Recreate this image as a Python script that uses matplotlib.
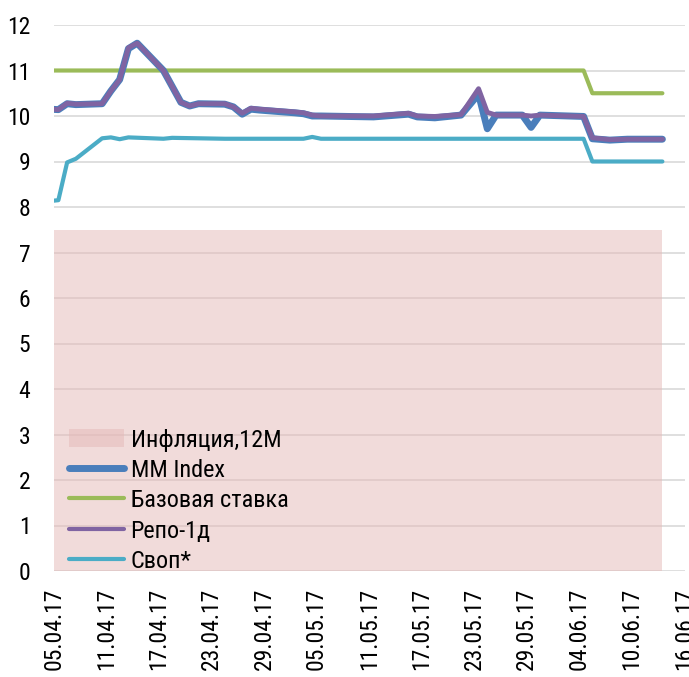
import matplotlib
matplotlib.use("Agg")
import matplotlib.pyplot as plt
from matplotlib.patches import Patch
from matplotlib.lines import Line2D
import pandas as pd

# ---------------- data ----------------
rate_dates = ["2017-04-04", "2017-04-05", "2017-04-06", "2017-04-07", "2017-04-10",
              "2017-04-11", "2017-04-12", "2017-04-13", "2017-04-14", "2017-04-17",
              "2017-04-19", "2017-04-20", "2017-04-21", "2017-04-24", "2017-04-25",
              "2017-04-26", "2017-04-27", "2017-04-28", "2017-05-02", "2017-05-03",
              "2017-05-04", "2017-05-05", "2017-05-11", "2017-05-15", "2017-05-16",
              "2017-05-18", "2017-05-21", "2017-05-23", "2017-05-24", "2017-05-25",
              "2017-05-28", "2017-05-29", "2017-05-30", "2017-06-04", "2017-06-05",
              "2017-06-07", "2017-06-09", "2017-06-13"]
mm_index = [10.15, 10.14, 10.27, 10.25, 10.27, 10.55, 10.80, 11.48, 11.60, 11.00,
            10.30, 10.22, 10.27, 10.26, 10.20, 10.04, 10.15, 10.13, 10.07, 10.05,
            10.00, 10.00, 9.98, 10.04, 9.98, 9.96, 10.02, 10.48, 9.72, 10.02,
            10.02, 9.75, 10.02, 9.99, 9.50, 9.47, 9.49, 9.49]
repo_1d = [10.15, 10.14, 10.28, 10.26, 10.27, 10.55, 10.80, 11.50, 11.60, 11.00,
           10.30, 10.22, 10.27, 10.27, 10.20, 10.06, 10.17, 10.15, 10.09, 10.07,
           10.02, 10.00, 10.00, 10.06, 10.00, 9.99, 10.03, 10.60, 10.08, 10.02,
           10.02, 10.00, 10.02, 9.99, 9.52, 9.48, 9.49, 9.49]

base_dates = ["2017-04-04", "2017-06-04", "2017-06-05", "2017-06-13"]
base_rate = [11.0, 11.0, 10.5, 10.5]

swap_dates = ["2017-04-04", "2017-04-05", "2017-04-06", "2017-04-07", "2017-04-10",
              "2017-04-11", "2017-04-12", "2017-04-13", "2017-04-17", "2017-04-18",
              "2017-04-24", "2017-05-03", "2017-05-04", "2017-05-05", "2017-06-04",
              "2017-06-05", "2017-06-13"]
swap = [8.13, 8.15, 8.98, 9.06, 9.51, 9.53, 9.49, 9.53, 9.50, 9.52,
        9.50, 9.50, 9.54, 9.50, 9.50, 9.00, 9.00]

infl_dates = ["2017-04-04", "2017-06-13"]
inflation = [7.5, 7.5]

x_tick_labels = ["05.04.17", "11.04.17", "17.04.17", "23.04.17", "29.04.17",
                 "05.05.17", "11.05.17", "17.05.17", "23.05.17", "29.05.17",
                 "04.06.17", "10.06.17", "16.06.17"]
y_ticks = list(range(0, 13))

series_labels = ["Инфляция,12M", "MM Index", "Базовая ставка", "Репо-1д", "Своп*"]

# ---------------- style ----------------
plt.rcParams["font.family"] = ["Roboto Condensed", "DejaVu Sans"]
FS_TICK = 17
FS_LEG = 17.5

c_infl = (0.898, 0.726, 0.718)
c_mm = "#4a7ebb"
c_base = "#9bbb59"
c_repo = "#8064a2"
c_swap = "#4bacc6"

fig = plt.figure(figsize=(6.89, 6.77), dpi=100)
ax = fig.add_axes([54 / 689, 106 / 677, 631 / 689, 546 / 677])

half = pd.Timedelta(hours=12)  # points sit in the middle of each day slot
rd = pd.to_datetime(rate_dates) + half
bd = pd.to_datetime(base_dates) + half
sd = pd.to_datetime(swap_dates) + half
idt = pd.to_datetime(infl_dates) + half

ax.fill_between(idt, 0, inflation, color=c_infl, alpha=0.5, lw=0, zorder=2)
ax.plot(rd, mm_index, color=c_mm, lw=5, solid_capstyle="round", solid_joinstyle="round", zorder=4)
ax.plot(bd, base_rate, color=c_base, lw=3, solid_capstyle="round", zorder=3)
ax.plot(rd, repo_1d, color=c_repo, lw=3.5, solid_capstyle="round", solid_joinstyle="round", zorder=5)
ax.plot(sd, swap, color=c_swap, lw=3, solid_capstyle="round", zorder=3)

xt = pd.to_datetime(x_tick_labels, format="%d.%m.%y")
ax.set_xticks(xt)
ax.set_xticklabels(x_tick_labels, rotation=90, fontsize=FS_TICK)
ax.set_xlim(pd.Timestamp("2017-04-05 00:00"), pd.Timestamp("2017-06-16 02:00"))
ax.set_ylim(0, 12)
ax.set_yticks(y_ticks)
ax.set_yticklabels([str(v) for v in y_ticks], fontsize=FS_TICK)
ax.tick_params(axis="both", length=0)
ax.tick_params(axis="y", pad=17)
ax.tick_params(axis="x", pad=12)
ax.grid(axis="y", color="#d9d9d9", lw=1.2, zorder=1)
ax.set_axisbelow(True)
for s in ax.spines.values():
    s.set_visible(False)

handles = [Patch(facecolor=c_infl, alpha=0.5, edgecolor="none"),
           Line2D([], [], color=c_mm, lw=5, solid_capstyle="round"),
           Line2D([], [], color=c_base, lw=3, solid_capstyle="round"),
           Line2D([], [], color=c_repo, lw=3, solid_capstyle="round"),
           Line2D([], [], color=c_swap, lw=3, solid_capstyle="round")]
ax.legend(handles, series_labels, loc="lower left", bbox_to_anchor=(0.0, -0.03),
          frameon=False, fontsize=FS_LEG, handlelength=2.3, handleheight=0.8,
          handletextpad=0.25, labelspacing=0.3, borderaxespad=0.2)

fig.savefig("out.png", dpi=100)
